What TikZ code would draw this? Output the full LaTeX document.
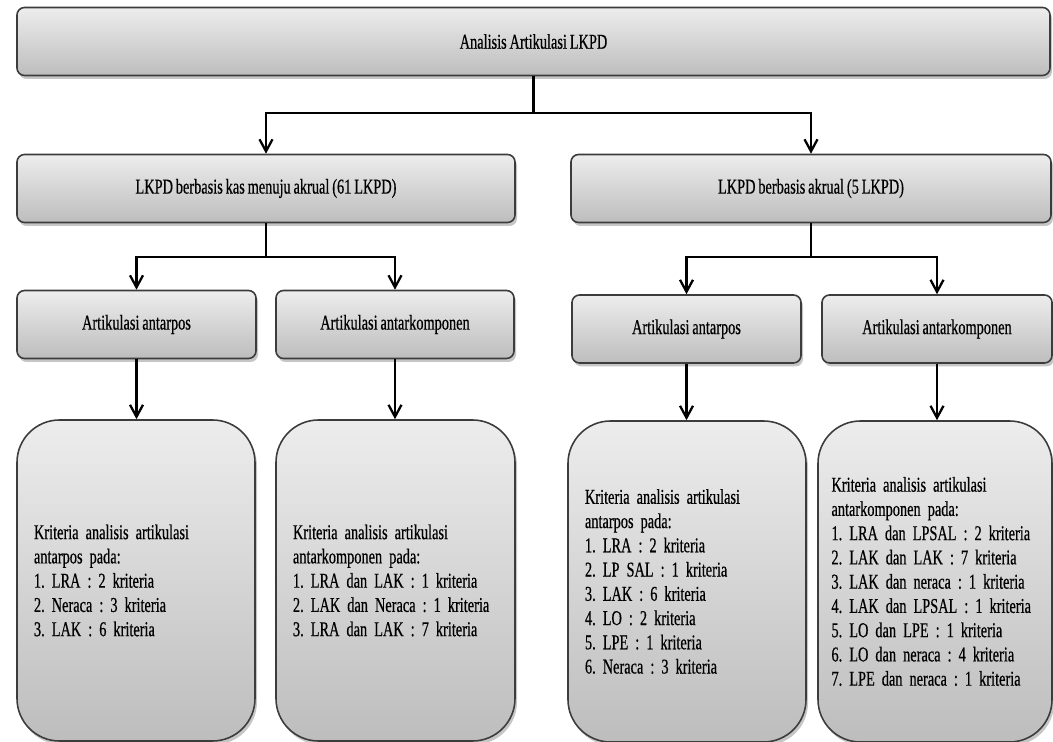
\documentclass[tikz,border=0pt]{standalone}
\usepackage{fontspec}
\setmainfont{Liberation Serif}[FakeStretch=0.68, WordSpace=0.8, FakeBold=0.5]
\usetikzlibrary{arrows.meta, shadows, positioning}
\definecolor{boxtop}{RGB}{237,237,237}
\definecolor{boxbot}{RGB}{189,189,189}
\definecolor{boxline}{RGB}{60,60,60}
\tikzset{>= {Straight Barb[length = 2.4mm, width = 2.6mm]},
         every node/.style = {font = \fontsize{12}{13.8}\selectfont\frenchspacing},
         pbox/.style = {draw = boxline, line width = 0.9pt, rounded corners = 1.5mm,
                        top color = boxtop, bottom color = boxbot,
                        drop shadow = {shadow xshift = 0.4mm, shadow yshift = -0.7mm,
                                       opacity = 0.45},
                        minimum width = #1, minimum height = 13.6mm, inner sep = 0pt},
         pbox/.default = 10mm,
         kbox/.style = {pbox, rounded corners = 8.5mm, minimum height = 64.2mm,
                        text width = #1, inner xsep = 3.4mm, align = left},
         link/.style = {->, line width = 1.3pt}}

\begin{document}
\begin{tikzpicture}[x = 0.2mm, y = -0.2mm]
    \useasboundingbox (0,0) rectangle (1053,742);
    \clip (0,0) rectangle (1053,742);

    % top
    \node[pbox = 206.6mm] (lkpd) at (533.5,41.5) {Analisis Artikulasi LKPD};

    % two kinds of LKPD
    \node[pbox = 99.6mm]  (kas)  at (266,188.5)  {LKPD berbasis kas menuju akrual (61 LKPD)};
    \node[pbox = 96mm]    (akr)  at (811,188.5)  {LKPD berbasis akrual (5 LKPD)};

    % articulation kinds
    \node[pbox = 47.8mm]  (kpos) at (136.5,324.5) {Artikulasi antarpos};
    \node[pbox = 47.6mm]  (kkom) at (395,324.5)   {Artikulasi antarkomponen};
    \node[pbox = 45.8mm]  (apos) at (686.5,329)   {Artikulasi antarpos};
    \node[pbox = 46mm]    (akom) at (937,329)     {Artikulasi antarkomponen};

    % criteria
    \node[kbox = 40.8mm] (kposk) at (136,580.5)
        {Kriteria analisis artikulasi\\ antarpos pada:\\ 1. LRA : 2 kriteria\\
         2. Neraca : 3 kriteria\\ 3. LAK : 6 kriteria};
    \node[kbox = 41mm] (kkomk) at (395.5,580.5)
        {Kriteria analisis artikulasi\\ antarkomponen pada:\\ 1. LRA dan LAK : 1 kriteria\\
         2. LAK dan Neraca : 1 kriteria\\ 3. LRA dan LAK : 7 kriteria};
    \node[kbox = 40.8mm] (aposk) at (687,581.5)
        {Kriteria analisis artikulasi\\ antarpos pada:\\ 1. LRA : 2 kriteria\\
         2. LP SAL : 1 kriteria\\ 3. LAK : 6 kriteria\\ 4. LO : 2 kriteria\\
         5. LPE : 1 kriteria\\ 6. Neraca : 3 kriteria};
    \node[kbox = 41.4mm, inner xsep = 2.7mm] (akomk) at (935,581.5)
        {Kriteria analisis artikulasi\\ antarkomponen pada:\\ 1. LRA dan LPSAL : 2 kriteria\\
         2. LAK dan LAK : 7 kriteria\\ 3. LAK dan neraca : 1 kriteria\\
         4. LAK dan LPSAL : 1 kriteria\\ 5. LO dan LPE : 1 kriteria\\
         6. LO dan neraca : 4 kriteria\\ 7. LPE dan neraca : 1 kriteria};

    % connectors
    \draw[link] (lkpd.south) -- ++(0,37) -| (kas.north);
    \draw[link] (lkpd.south) -- ++(0,37) -| (akr.north);
    \draw[link] (kas.south)  -- ++(0,34) -| (kpos.north);
    \draw[link] (kas.south)  -- ++(0,34) -| (kkom.north);
    \draw[link] (akr.south)  -- ++(0,34) -| (apos.north);
    \draw[link] (akr.south)  -- ++(0,34) -| (akom.north);
    \draw[link] (kpos.south) -- (kpos.south |- kposk.north);
    \draw[link] (kkom.south) -- (kkom.south |- kkomk.north);
    \draw[link] (apos.south) -- (apos.south |- aposk.north);
    \draw[link] (akom.south) -- (akom.south |- akomk.north);
\end{tikzpicture}
\end{document}
